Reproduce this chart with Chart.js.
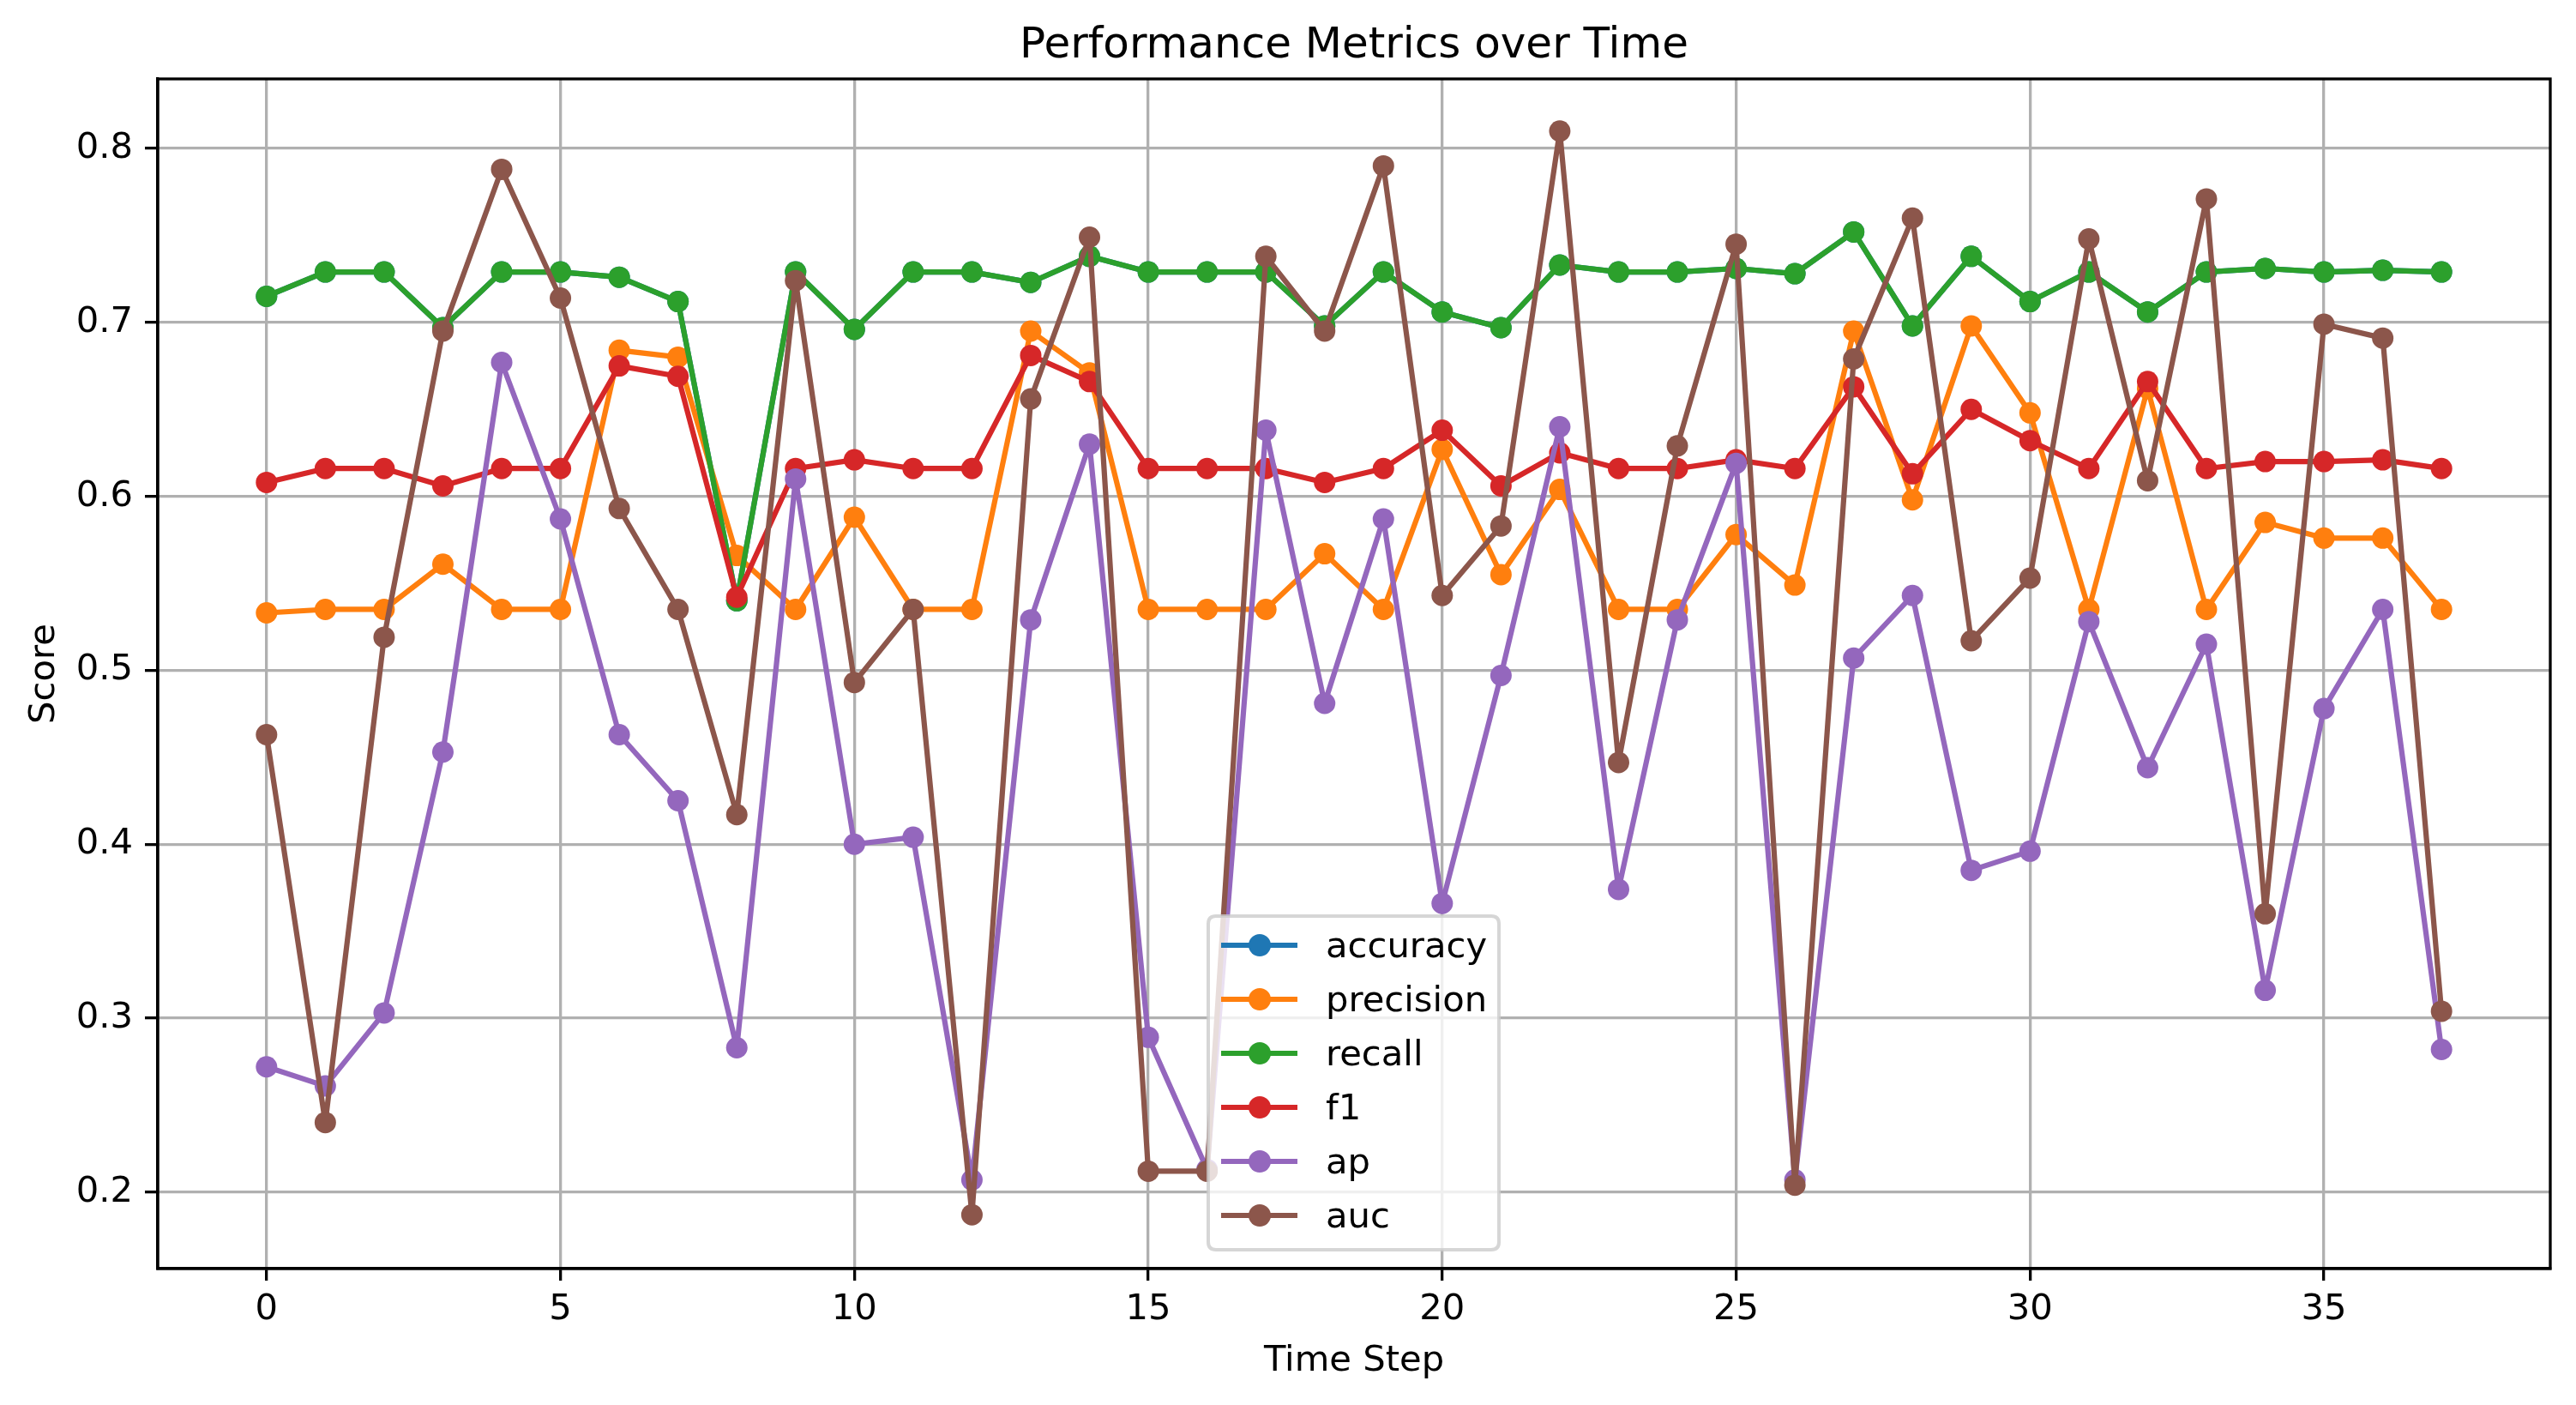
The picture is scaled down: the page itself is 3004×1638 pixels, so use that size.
<!DOCTYPE html>
<html>
<head>
<meta charset="utf-8">
<script src="https://cdn.jsdelivr.net/npm/chart.js@4.4.1/dist/chart.umd.min.js"></script>
<style>
html,body{margin:0;padding:0;background:#fff;}
#c{display:block;}
</style>
</head>
<body>
<canvas id="c" width="3004" height="1638" style="width:3004px;height:1638px"></canvas>
<script>
const steps = [0,1,2,3,4,5,6,7,8,9,10,11,12,13,14,15,16,17,18,19,20,21,22,23,24,25,26,27,28,29,30,31,32,33,34,35,36,37];
const seriesNames = ['accuracy','precision','recall','f1','ap','auc'];
const accuracy = [0.715,0.729,0.729,0.697,0.729,0.729,0.726,0.712,0.540,0.729,0.696,0.729,0.729,0.723,0.738,0.729,0.729,0.729,0.698,0.729,0.706,0.697,0.733,0.729,0.729,0.731,0.728,0.752,0.698,0.738,0.712,0.729,0.706,0.729,0.731,0.729,0.730,0.729];
const recall = [0.715,0.729,0.729,0.697,0.729,0.729,0.726,0.712,0.540,0.729,0.696,0.729,0.729,0.723,0.738,0.729,0.729,0.729,0.698,0.729,0.706,0.697,0.733,0.729,0.729,0.731,0.728,0.752,0.698,0.738,0.712,0.729,0.706,0.729,0.731,0.729,0.730,0.729];
const precision = [0.533,0.535,0.535,0.561,0.535,0.535,0.684,0.680,0.566,0.535,0.588,0.535,0.535,0.695,0.671,0.535,0.535,0.535,0.567,0.535,0.627,0.555,0.604,0.535,0.535,0.578,0.549,0.695,0.598,0.698,0.648,0.535,0.662,0.535,0.585,0.576,0.576,0.535];
const f1 = [0.608,0.616,0.616,0.606,0.616,0.616,0.675,0.669,0.542,0.616,0.621,0.616,0.616,0.681,0.666,0.616,0.616,0.616,0.608,0.616,0.638,0.606,0.625,0.616,0.616,0.621,0.616,0.663,0.613,0.650,0.632,0.616,0.666,0.616,0.620,0.620,0.621,0.616];
const ap = [0.272,0.261,0.303,0.453,0.677,0.587,0.463,0.425,0.283,0.610,0.400,0.404,0.207,0.529,0.630,0.289,0.213,0.638,0.481,0.587,0.366,0.497,0.640,0.374,0.529,0.619,0.207,0.507,0.543,0.385,0.396,0.528,0.444,0.515,0.316,0.478,0.535,0.282];
const auc = [0.463,0.240,0.519,0.695,0.788,0.714,0.593,0.535,0.417,0.724,0.493,0.535,0.187,0.656,0.749,0.212,0.212,0.738,0.695,0.790,0.543,0.583,0.810,0.447,0.629,0.745,0.204,0.679,0.760,0.517,0.553,0.748,0.609,0.771,0.360,0.699,0.691,0.304];
const xTicks = [0,5,10,15,20,25,30,35];
const yTicks = [0.2,0.3,0.4,0.5,0.6,0.7,0.8];
const titleText = 'Performance Metrics over Time';
const xLabel = 'Time Step';
const yLabel = 'Score';

const colors = ['#1f77b4','#ff7f0e','#2ca02c','#d62728','#9467bd','#8c564b'];
const seriesValues = [accuracy, precision, recall, f1, ap, auc];
const FONT = '"DejaVu Sans", sans-serif';

const datasets = seriesNames.map((name, i) => ({
  label: name,
  data: steps.map((s, j) => ({x: s, y: seriesValues[i][j]})),
  borderColor: colors[i],
  backgroundColor: colors[i],
  pointBackgroundColor: colors[i],
  pointBorderColor: colors[i],
  pointBorderWidth: 0,
  pointRadius: 12.5,
  pointHoverRadius: 12.5,
  borderWidth: 6.2,
  borderJoinStyle: 'round',
  borderCapStyle: 'square',
  tension: 0,
  fill: false,
  order: seriesNames.length - i,
  clip: false
}));

const decor = {
  id: 'decor',
  afterDraw(chart) {
    const ctx = chart.ctx;
    const a = chart.chartArea;
    ctx.save();
    // frame
    ctx.strokeStyle = '#000';
    ctx.lineWidth = 3.3;
    ctx.strokeRect(a.left, a.top, a.right - a.left, a.bottom - a.top);
    // title
    ctx.fillStyle = '#000';
    ctx.font = '50px ' + FONT;
    ctx.textAlign = 'center';
    ctx.textBaseline = 'alphabetic';
    ctx.fillText(titleText, (a.left + a.right) / 2, a.top - 25);
    // x label
    ctx.font = '41.7px ' + FONT;
    ctx.textBaseline = 'middle';
    ctx.fillText(xLabel, (a.left + a.right) / 2, 1587);
    // y label
    ctx.save();
    ctx.translate(52, (a.top + a.bottom) / 2);
    ctx.rotate(-Math.PI / 2);
    ctx.fillText(yLabel, 0, 0);
    ctx.restore();
    // legend
    const bx = 1409, by = 1068, bw = 339, bh = 389, r = 9;
    ctx.beginPath();
    ctx.moveTo(bx + r, by);
    ctx.lineTo(bx + bw - r, by);
    ctx.quadraticCurveTo(bx + bw, by, bx + bw, by + r);
    ctx.lineTo(bx + bw, by + bh - r);
    ctx.quadraticCurveTo(bx + bw, by + bh, bx + bw - r, by + bh);
    ctx.lineTo(bx + r, by + bh);
    ctx.quadraticCurveTo(bx, by + bh, bx, by + bh - r);
    ctx.lineTo(bx, by + r);
    ctx.quadraticCurveTo(bx, by, bx + r, by);
    ctx.closePath();
    ctx.fillStyle = 'rgba(255,255,255,0.8)';
    ctx.fill();
    ctx.strokeStyle = 'rgba(204,204,204,0.8)';
    ctx.lineWidth = 4;
    ctx.stroke();
    ctx.font = '41.7px ' + FONT;
    ctx.textAlign = 'left';
    ctx.textBaseline = 'middle';
    chart.data.datasets.forEach((ds, i) => {
      const cy = 1102 + i * 63;
      ctx.strokeStyle = ds.borderColor;
      ctx.lineWidth = 6.2;
      ctx.beginPath();
      ctx.moveTo(1424, cy);
      ctx.lineTo(1513, cy);
      ctx.stroke();
      ctx.fillStyle = ds.borderColor;
      ctx.beginPath();
      ctx.arc(1469, cy, 13, 0, Math.PI * 2);
      ctx.fill();
      ctx.fillStyle = '#000';
      ctx.fillText(ds.label, 1546, cy + 3);
    });
    ctx.restore();
  }
};

new Chart(document.getElementById('c'), {
  type: 'line',
  data: { datasets },
  options: {
    responsive: false,
    animation: false,
    devicePixelRatio: 1,
    events: [],
    layout: { padding: { top: 92, right: 30, left: 0, bottom: 0 } },
    plugins: { legend: { display: false }, title: { display: false }, tooltip: { enabled: false } },
    scales: {
      x: {
        type: 'linear',
        min: -1.85,
        max: 38.85,
        afterBuildTicks: s => { s.ticks = xTicks.map(v => ({value: v})); },
        afterFit: s => { s.height = 1638 - 1479; },
        grid: { color: '#b0b0b0', lineWidth: 3.3, drawTicks: true, tickLength: 14, tickColor: '#000', tickWidth: 3.3 },
        border: { display: true, color: '#000', width: 3.3 },
        ticks: { color: '#000', font: { family: FONT, size: 41.7 }, padding: 9, maxRotation: 0, autoSkip: false, callback: v => String(v) }
      },
      y: {
        type: 'linear',
        min: 0.156,
        max: 0.840,
        afterBuildTicks: s => { s.ticks = yTicks.map(v => ({value: v})); },
        afterFit: s => { s.width = 184; },
        grid: { color: '#b0b0b0', lineWidth: 3.3, drawTicks: true, tickLength: 15, tickColor: '#000', tickWidth: 3.3 },
        border: { display: true, color: '#000', width: 3.3 },
        ticks: { color: '#000', font: { family: FONT, size: 41.7 }, padding: 14, autoSkip: false, callback: v => v.toFixed(1) }
      }
    }
  },
  plugins: [decor]
});
</script>
</body>
</html>
